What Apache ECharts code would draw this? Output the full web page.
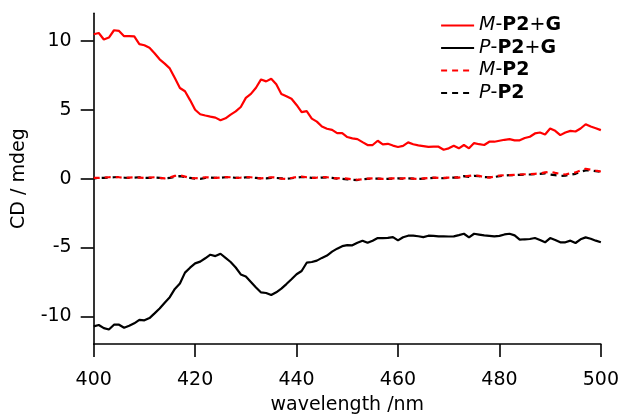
<!DOCTYPE html>
<html><head><meta charset="utf-8">
<script src="https://cdn.jsdelivr.net/npm/echarts@6/dist/echarts.min.js"></script>
<style>html,body{margin:0;padding:0;background:#fff}#c{width:622px;height:420px}</style>
</head><body><div id="c"></div>
<script>
const wavelengths = [400,401,402,403,404,405,406,407,408,409,410,411,412,413,414,415,416,417,418,419,420,421,422,423,424,425,426,427,428,429,430,431,432,433,434,435,436,437,438,439,440,441,442,443,444,445,446,447,448,449,450,451,452,453,454,455,456,457,458,459,460,461,462,463,464,465,466,467,468,469,470,471,472,473,474,475,476,477,478,479,480,481,482,483,484,485,486,487,488,489,490,491,492,493,494,495,496,497,498,499,500];
const mP2G = [10.48,10.57,10.1,10.24,10.77,10.72,10.34,10.34,10.32,9.76,9.68,9.5,9.1,8.66,8.35,8.0,7.3,6.58,6.34,5.7,5.0,4.67,4.58,4.5,4.43,4.24,4.38,4.65,4.88,5.2,5.86,6.15,6.6,7.2,7.06,7.25,6.85,6.15,5.98,5.8,5.35,4.83,4.9,4.36,4.14,3.78,3.62,3.54,3.3,3.3,3.02,2.92,2.87,2.65,2.44,2.44,2.75,2.49,2.53,2.4,2.3,2.38,2.63,2.5,2.42,2.36,2.3,2.33,2.32,2.1,2.2,2.39,2.2,2.44,2.2,2.58,2.5,2.44,2.68,2.68,2.75,2.82,2.87,2.78,2.78,2.95,3.04,3.28,3.35,3.21,3.64,3.47,3.16,3.35,3.47,3.42,3.64,3.95,3.78,3.66,3.52];
const pP2G = [-10.72,-10.62,-10.85,-10.95,-10.6,-10.6,-10.82,-10.68,-10.5,-10.25,-10.28,-10.12,-9.78,-9.42,-9.0,-8.6,-8.0,-7.61,-6.82,-6.46,-6.15,-6.02,-5.78,-5.52,-5.62,-5.45,-5.75,-6.05,-6.45,-6.95,-7.1,-7.5,-7.9,-8.26,-8.3,-8.45,-8.25,-7.98,-7.65,-7.3,-6.94,-6.7,-6.1,-6.05,-5.95,-5.75,-5.58,-5.3,-5.08,-4.9,-4.83,-4.84,-4.65,-4.5,-4.66,-4.5,-4.31,-4.31,-4.3,-4.24,-4.48,-4.25,-4.14,-4.14,-4.18,-4.24,-4.14,-4.15,-4.19,-4.19,-4.2,-4.19,-4.1,-4.0,-4.26,-4.0,-4.06,-4.12,-4.15,-4.19,-4.15,-4.05,-4.0,-4.12,-4.43,-4.4,-4.38,-4.31,-4.45,-4.62,-4.31,-4.45,-4.62,-4.62,-4.5,-4.67,-4.4,-4.26,-4.36,-4.5,-4.62];
const mP2 = [0.05,0.05,0.08,0.1,0.12,0.1,0.05,0.08,0.1,0.08,0.05,0.08,0.1,0.05,0.02,0.08,0.2,0.25,0.15,0.05,0.03,0.05,0.1,0.08,0.05,0.08,0.12,0.1,0.05,0.08,0.12,0.1,0.05,0.02,0.05,0.1,0.08,0.0,-0.03,0.05,0.12,0.15,0.1,0.05,0.08,0.12,0.1,0.05,0.02,0.05,0.0,-0.05,-0.08,-0.05,0.0,0.02,0.0,-0.02,0.0,0.02,0.0,0.02,0.05,0.0,-0.02,0.02,0.05,0.08,0.05,0.05,0.08,0.1,0.08,0.15,0.2,0.25,0.2,0.1,0.08,0.15,0.22,0.25,0.25,0.28,0.3,0.32,0.32,0.35,0.38,0.45,0.5,0.42,0.35,0.3,0.38,0.45,0.6,0.72,0.65,0.58,0.52];
const pP2 = [0.02,0.05,0.06,0.08,0.1,0.12,0.08,0.05,0.08,0.1,0.06,0.05,0.08,0.06,0.02,0.05,0.12,0.18,0.12,0.05,0.0,-0.02,0.05,0.08,0.05,0.06,0.1,0.1,0.06,0.05,0.1,0.08,0.05,0.02,0.02,0.06,0.05,0.02,0.0,0.03,0.08,0.12,0.1,0.06,0.05,0.08,0.1,0.06,0.0,-0.02,-0.05,-0.08,-0.1,-0.05,-0.02,0.0,0.0,-0.03,-0.02,0.0,0.02,0.0,0.02,0.0,-0.02,0.0,0.03,0.05,0.05,0.03,0.06,0.08,0.1,0.18,0.12,0.2,0.18,0.12,0.1,0.12,0.18,0.22,0.25,0.25,0.28,0.3,0.3,0.32,0.35,0.38,0.3,0.25,0.2,0.22,0.28,0.35,0.5,0.6,0.6,0.55,0.5];
const xTicks = [400,420,440,460,480,500];
const yTicks = [-10,-5,0,5,10];
const seriesNames = ['M-P2+G','P-P2+G','M-P2','P-P2'];

const FONT = 'DejaVu Sans';
const pair = (xs, ys) => xs.map((x, i) => [x, ys[i]]);
const legendRich = {
  'M-P2+G': '{i|M}{n|-}{b|P2}{n|+}{b|G}',
  'P-P2+G': '{i|P}{n|-}{b|P2}{n|+}{b|G}',
  'M-P2': '{i|M}{n|-}{b|P2}',
  'P-P2': '{i|P}{n|-}{b|P2}'
};
const legendLine = [
  {color: '#ff0000', width: 2.2, type: 'solid'},
  {color: '#000', width: 2.2, type: 'solid'},
  {color: '#ff0000', width: 2.2, type: [6, 5], dashOffset: 0},
  {color: '#000', width: 2.2, type: [6, 5], dashOffset: 0}
];
const axisCommon = {
  axisLine: {show: true, onZero: false, lineStyle: {color: '#000', width: 1.6}},
  axisTick: {show: true, inside: false, length: 13, lineStyle: {color: '#000', width: 1.6}},
  splitLine: {show: false},
  axisLabel: {color: '#000', fontFamily: FONT, fontSize: 19},
  nameTextStyle: {color: '#000', fontFamily: FONT, fontSize: 19}
};
const chart = echarts.init(document.getElementById('c'), null, {renderer: 'canvas'});
chart.setOption({
  animation: false,
  backgroundColor: '#fff',
  grid: {left: 93.7, right: 21, top: 13.3, bottom: 74},
  legend: {
    orient: 'vertical', left: 435, top: 11, itemWidth: 33, itemHeight: 12, itemGap: 3.5,
    data: seriesNames.map((n, i) => ({name: n, lineStyle: legendLine[i]})),
    formatter: name => legendRich[name],
    itemStyle: {color: 'rgba(0,0,0,0)', borderColor: 'rgba(0,0,0,0)', borderWidth: 0, opacity: 0},
    lineStyle: {width: 2.2},
    textStyle: {
      color: '#000', fontFamily: FONT, fontSize: 19,
      rich: {
        i: {fontStyle: 'italic', fontFamily: FONT, fontSize: 19, color: '#000'},
        b: {fontWeight: 'bold', fontFamily: FONT, fontSize: 19, color: '#000'},
        n: {fontFamily: FONT, fontSize: 19, color: '#000'}
      }
    }
  },
  xAxis: Object.assign({}, axisCommon, {
    type: 'value', min: 400, max: 500, interval: 20,
    name: 'wavelength /nm', nameLocation: 'middle', nameGap: 52,
    axisLabel: Object.assign({}, axisCommon.axisLabel, {margin: 27, customValues: xTicks}),
    axisTick: Object.assign({}, axisCommon.axisTick, {customValues: xTicks})
  }),
  yAxis: Object.assign({}, axisCommon, {
    type: 'value', min: -12, max: 12,
    name: 'CD / mdeg', nameLocation: 'middle', nameGap: 65, nameRotate: 90,
    axisLabel: Object.assign({}, axisCommon.axisLabel, {margin: 22, customValues: yTicks}),
    axisTick: Object.assign({}, axisCommon.axisTick, {customValues: yTicks})
  }),
  series: [
    {name: seriesNames[0], type: 'line', data: pair(wavelengths, mP2G), showSymbol: false, symbol: 'none', z: 4,
     lineStyle: {color: '#ff0000', width: 2.2}, itemStyle: {color: '#ff0000'}},
    {name: seriesNames[1], type: 'line', data: pair(wavelengths, pP2G), showSymbol: false, symbol: 'none', z: 4,
     lineStyle: {color: '#000', width: 2.2}, itemStyle: {color: '#000'}},
    {name: seriesNames[2], type: 'line', data: pair(wavelengths, mP2), showSymbol: false, symbol: 'none', z: 3,
     lineStyle: {color: '#ff0000', width: 2.2, type: [6, 5]}, itemStyle: {color: '#ff0000'}},
    {name: seriesNames[3], type: 'line', data: pair(wavelengths, pP2), showSymbol: false, symbol: 'none', z: 2,
     lineStyle: {color: '#000', width: 2.2, type: [6, 5], dashOffset: 3}, itemStyle: {color: '#000'}}
  ]
});
</script></body></html>
